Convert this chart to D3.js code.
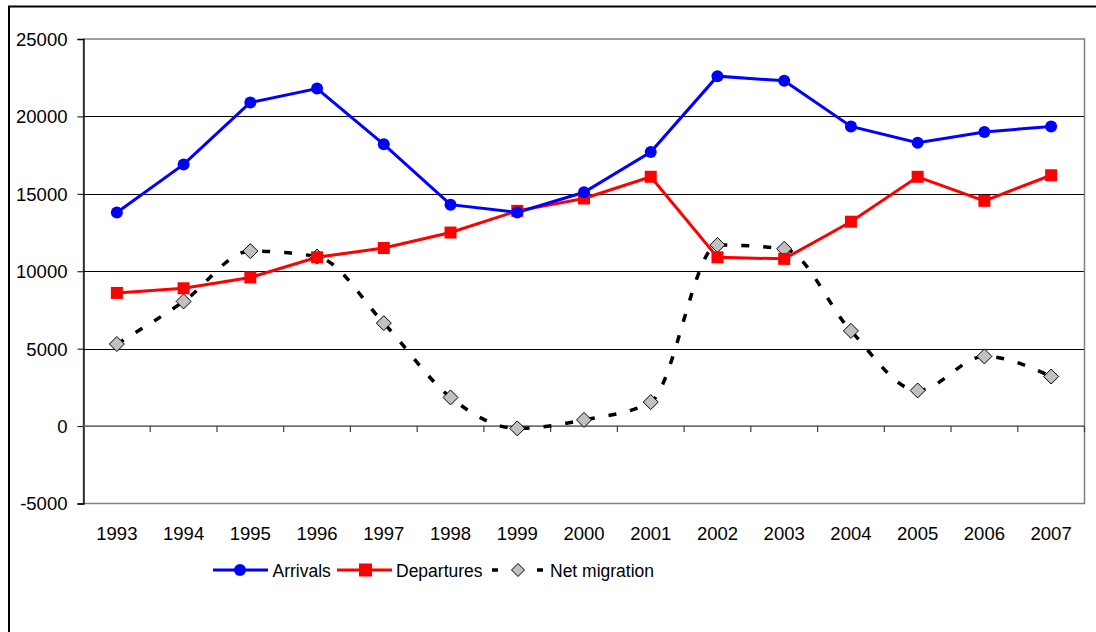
<!DOCTYPE html>
<html>
<head>
<meta charset="utf-8">
<script src="https://cdn.jsdelivr.net/npm/d3@7"></script>
<style>
  html, body { margin: 0; padding: 0; background: #fff; }
  svg { display: block; }
  text { font-family: "Liberation Sans", Arial, sans-serif; fill: #000; }
</style>
</head>
<body>
<svg id="chart" width="1096" height="632"></svg>
<script>
const years = ["1993","1994","1995","1996","1997","1998","1999","2000","2001","2002","2003","2004","2005","2006","2007"];
const arrivals   = [13800,16900,20900,21800,18200,14300,13800,15100,17700,22600,22300,19350,18300,19000,19350];
const departures = [8600,8900,9600,10900,11500,12500,13900,14700,16100,10900,10800,13200,16100,14550,16200];
const netMigration = [5300,8050,11300,10950,6650,1850,-150,400,1550,11700,11450,6150,2300,4500,3200];
const yTicks = [-5000,0,5000,10000,15000,20000,25000];
const seriesNames = ["Arrivals","Departures","Net migration"];

(function () {
const svg = d3.select("#chart");
const pLeft = 83.5, pRight = 1084.5, pTop = 39, pBottom = 503.5;

// outer frame
svg.append("rect").attr("x", 9).attr("y", 6.5).attr("width", 1200).attr("height", 1000)
  .attr("fill", "none").attr("stroke", "#000").attr("stroke-width", 2);

const x = d3.scaleBand().domain(years).range([pLeft, pRight]).padding(0);
const y = d3.scaleLinear().domain([-5000, 25000]).range([pBottom, pTop]);
const xc = d => x(d) + x.bandwidth() / 2;

// gridlines
svg.append("g").selectAll("line").data(yTicks.filter(t => t > 0 && t < 25000)).join("line")
  .attr("x1", pLeft).attr("x2", pRight)
  .attr("y1", d => Math.round(y(d)) + 0.5).attr("y2", d => Math.round(y(d)) + 0.5)
  .attr("stroke", "#000").attr("stroke-width", 1);

// plot border
svg.append("rect").attr("x", pLeft).attr("y", pTop).attr("width", pRight - pLeft).attr("height", pBottom - pTop)
  .attr("fill", "none").attr("stroke", "#808080").attr("stroke-width", 1.5);

// y axis
const yAxis = d3.axisLeft(y).tickValues(yTicks).tickSize(6).tickPadding(10).tickFormat(d => String(d));
const gy = svg.append("g").attr("transform", `translate(${pLeft},0)`).call(yAxis);
gy.select(".domain").attr("stroke", "#000").attr("stroke-width", 1.3);
gy.selectAll(".tick line").attr("stroke", "#000");
gy.selectAll("text").style("font-size", "18.5px").attr("fill", "#000").attr("dy", "0.35em");

// category axis at 0
const y0 = y(0);
svg.append("line").attr("x1", pLeft).attr("x2", pRight).attr("y1", y0).attr("y2", y0)
  .attr("stroke", "#707070").attr("stroke-width", 1.8);
const tickPos = d3.range(years.length + 1).map(i => pLeft + i * x.bandwidth());
svg.append("g").selectAll("line").data(tickPos.slice(1)).join("line")
  .attr("x1", d => d).attr("x2", d => d).attr("y1", y0).attr("y2", y0 + 6)
  .attr("stroke", "#404040").attr("stroke-width", 1.2);

// x labels
svg.append("g").selectAll("text").data(years).join("text")
  .attr("x", d => xc(d)).attr("y", 539.5).attr("text-anchor", "middle")
  .style("font-size", "18.5px").text(d => d);

// series
const line = d3.line().x((d, i) => xc(years[i])).y(d => y(d));
const smooth = d3.line().x((d, i) => xc(years[i])).y(d => y(d)).curve(d3.curveMonotoneX);

svg.append("path").attr("d", smooth(netMigration)).attr("fill", "none")
  .attr("stroke", "#000").attr("stroke-width", 3.5).attr("stroke-dasharray", "8,14");
svg.append("path").attr("d", line(departures)).attr("fill", "none")
  .attr("stroke", "#ff0000").attr("stroke-width", 3);
svg.append("path").attr("d", line(arrivals)).attr("fill", "none")
  .attr("stroke", "#0000ff").attr("stroke-width", 3);

const diamond = (cx, cy, r) => `M${cx},${cy - r}L${cx + r},${cy}L${cx},${cy + r}L${cx - r},${cy}Z`;

svg.append("g").selectAll("path").data(netMigration).join("path")
  .attr("d", (d, i) => diamond(xc(years[i]), y(d), 7.5))
  .attr("fill", "#c0c0c0").attr("stroke", "#000").attr("stroke-width", 1);
svg.append("g").selectAll("rect").data(departures).join("rect")
  .attr("x", (d, i) => xc(years[i]) - 6).attr("y", d => y(d) - 6)
  .attr("width", 12).attr("height", 12).attr("fill", "#ff0000");
svg.append("g").selectAll("circle").data(arrivals).join("circle")
  .attr("cx", (d, i) => xc(years[i])).attr("cy", d => y(d)).attr("r", 6)
  .attr("fill", "#0000ff");

// legend
const ly = 570;
const lg = svg.append("g");
lg.append("line").attr("x1", 213).attr("x2", 268).attr("y1", ly).attr("y2", ly)
  .attr("stroke", "#0000ff").attr("stroke-width", 3);
lg.append("circle").attr("cx", 240).attr("cy", ly).attr("r", 6).attr("fill", "#0000ff");
lg.append("text").attr("x", 272.5).attr("y", ly + 6.5).style("font-size", "17.5px").text(seriesNames[0]);
lg.append("line").attr("x1", 337).attr("x2", 392).attr("y1", ly).attr("y2", ly)
  .attr("stroke", "#ff0000").attr("stroke-width", 3);
lg.append("rect").attr("x", 359).attr("y", ly - 6.5).attr("width", 13).attr("height", 13).attr("fill", "#ff0000");
lg.append("text").attr("x", 396).attr("y", ly + 6.5).style("font-size", "17.5px").text(seriesNames[1]);
lg.append("line").attr("x1", 492).attr("x2", 498).attr("y1", ly).attr("y2", ly)
  .attr("stroke", "#000").attr("stroke-width", 3.5);
lg.append("path").attr("d", diamond(518, ly, 6.5)).attr("fill", "#c0c0c0")
  .attr("stroke", "#000").attr("stroke-width", 1);
lg.append("line").attr("x1", 537).attr("x2", 543).attr("y1", ly).attr("y2", ly)
  .attr("stroke", "#000").attr("stroke-width", 3.5);
lg.append("text").attr("x", 550).attr("y", ly + 6.5).style("font-size", "17.5px").text(seriesNames[2]);
})();
</script>
</body>
</html>
